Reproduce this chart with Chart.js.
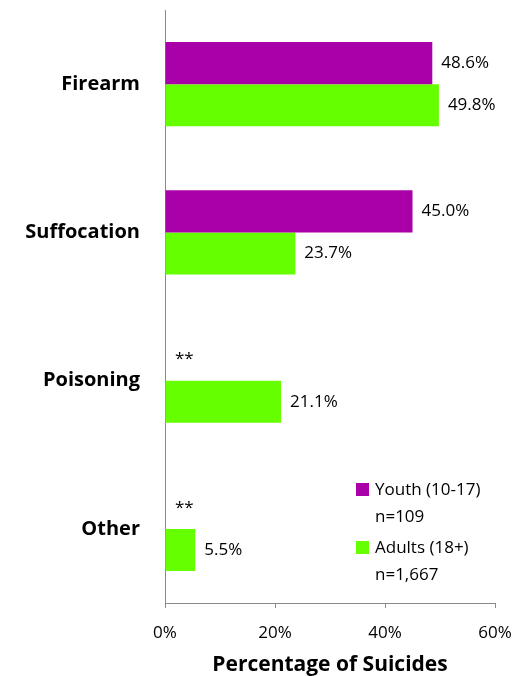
<!DOCTYPE html>
<html>
<head>
<meta charset="utf-8">
<script src="https://cdn.jsdelivr.net/npm/chart.js@4"></script>
<style>
  body { margin: 0; background: #fff; }
  #wrap { width: 520px; height: 676px; }
</style>
</head>
<body>
<div id="wrap"><canvas id="methods" width="520" height="676"></canvas></div>
<script>
const categories = ['Firearm', 'Suffocation', 'Poisoning', 'Other'];
const youth = [48.6, 45.0, null, null];     // null = too few cases to report
const adults = [49.8, 23.7, 21.1, 5.5];
const seriesNames = ['Youth (10-17)', 'Adults (18+)'];
const sampleSizes = ['n=109', 'n=1,667'];
const xTicks = [0, 20, 40, 60];
const suppressedMark = '**';

const PURPLE = '#AA00AA';
const GREEN = '#66FF00';
const AXIS = '#898989';
const FONT = "'Open Sans', sans-serif";

// value labels to the right of every bar ("**" where the count is suppressed)
const barLabels = {
  id: 'barLabels',
  afterDatasetsDraw(chart) {
    const ctx = chart.ctx;
    const x0 = chart.scales.x.getPixelForValue(0);
    ctx.save();
    ctx.font = '17px ' + FONT;
    ctx.fillStyle = '#000';
    ctx.textBaseline = 'middle';
    ctx.textAlign = 'left';
    chart.data.datasets.forEach((ds, di) => {
      chart.getDatasetMeta(di).data.forEach((bar, i) => {
        const v = ds.data[i];
        if (v == null) {
          ctx.fillText(suppressedMark, x0 + 10, bar.y);
        } else {
          ctx.fillText(v.toFixed(1) + '%', bar.x + 9, bar.y);
        }
      });
    });
    ctx.restore();
  }
};

// two-line legend in the lower right of the plot
const sideLegend = {
  id: 'sideLegend',
  afterDraw(chart) {
    const ctx = chart.ctx;
    ctx.save();
    ctx.font = '17px ' + FONT;
    ctx.fillStyle = '#000';
    ctx.textBaseline = 'middle';
    ctx.textAlign = 'left';
    let y = 490;
    chart.data.datasets.forEach((ds, di) => {
      ctx.fillStyle = ds.backgroundColor;
      ctx.fillRect(356, y - 7, 13, 13);
      ctx.fillStyle = '#000';
      ctx.fillText(seriesNames[di], 375, y);
      ctx.fillText(sampleSizes[di], 375, y + 27);
      y += 58;
    });
    ctx.restore();
  }
};

new Chart(document.getElementById('methods'), {
  type: 'bar',
  data: {
    labels: categories,
    datasets: [
      { label: seriesNames[0], data: youth, backgroundColor: PURPLE },
      { label: seriesNames[1], data: adults, backgroundColor: GREEN }
    ]
  },
  options: {
    indexAxis: 'y',
    responsive: false,
    animation: false,
    categoryPercentage: 0.568,
    barPercentage: 1,
    layout: { padding: { top: 10, right: 25, left: 0, bottom: 0 } },
    plugins: {
      legend: { display: false },
      tooltip: { enabled: false }
    },
    scales: {
      x: {
        min: 0,
        max: 60,
        afterFit(scale) {
          scale.height = 73;
          scale.paddingLeft = 0;
          scale.paddingRight = 0;
        },
        afterBuildTicks(scale) { scale.ticks = xTicks.map(v => ({ value: v })); },
        grid: { drawOnChartArea: false, drawTicks: true, tickLength: 5, color: AXIS },
        border: { color: AXIS, width: 1 },
        ticks: {
          padding: 15,
          color: '#000',
          font: { family: FONT, size: 17 },
          callback: v => v + '%'
        },
        title: {
          display: true,
          text: 'Percentage of Suicides',
          color: '#000',
          font: { family: FONT, size: 21, weight: 'bold', lineHeight: 1 },
          padding: { top: 0, bottom: 0 }
        }
      },
      y: {
        afterFit(scale) {
          scale.width = 165;
          scale.paddingTop = 0;
          scale.paddingBottom = 0;
        },
        grid: { display: false, drawTicks: false },
        border: { color: AXIS, width: 1 },
        ticks: {
          padding: 25,
          color: '#000',
          font: { family: FONT, size: 20, weight: 'bold' }
        }
      }
    }
  },
  plugins: [barLabels, sideLegend]
});
</script>
</body>
</html>
